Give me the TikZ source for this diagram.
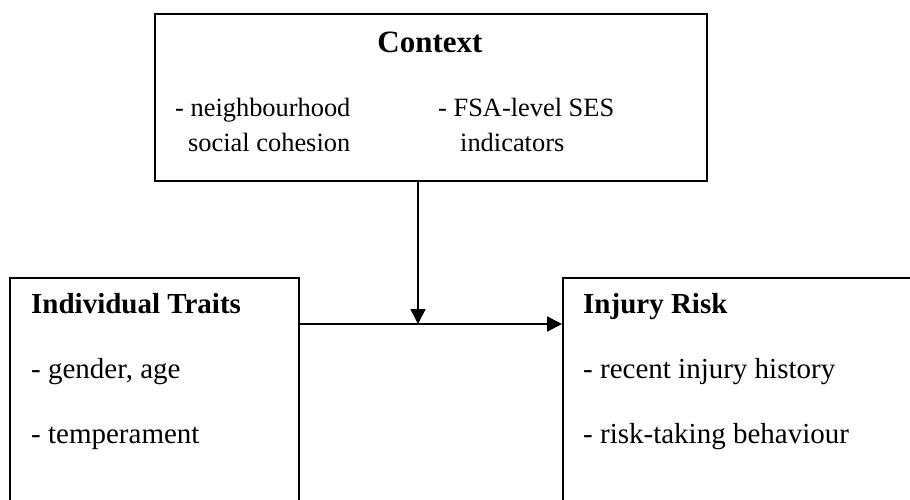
\documentclass[tikz,border=0pt]{standalone}
\usepackage{fontspec}
\setmainfont{Liberation Serif}
\usetikzlibrary{arrows.meta}
\begin{document}
\begin{tikzpicture}[x=1pt,y=-1pt,
  box/.style={draw,line width=1.8pt,anchor=north west,inner sep=0pt},
  conn/.style={line width=1.8pt,-{Triangle[length=15pt,width=15pt]}},
  plain/.style={line width=1.8pt},
  lbl/.style={anchor=base west,inner sep=0pt},
  title/.style={lbl,font=\fontsize{29}{33}\selectfont\bfseries},
  ctitle/.style={anchor=base,inner sep=0pt,font=\fontsize{31}{35}\selectfont\bfseries},
  small/.style={lbl,font=\fontsize{26.4}{30}\selectfont},
  body/.style={lbl,font=\fontsize{29}{33}\selectfont}]
\useasboundingbox (0,0) rectangle (910,500);
\clip (0,0) rectangle (910,500);
% boxes
\node[box,minimum width=552pt,minimum height=167pt] (ctx) at (154,13) {};
\node[box,minimum width=289pt,minimum height=260pt] (ind) at (9,277) {};
\node[box,minimum width=380pt,minimum height=260pt] (inj) at (562,277) {};
% texts
\node[ctitle] (ctxt) at (430,53) {Context};
\node[small] (c1a) at (175,117) {- neighbourhood};
\node[small] (c1b) at (188,152) {social cohesion};
\node[small] (c2a) at (438,117) {- FSA-level SES};
\node[small] (c2b) at (460,152) {indicators};
\node[title] (indt) at (31,313) {Individual Traits};
\node[body] (i1) at (31,378) {- gender, age};
\node[body] (i2) at (31,443) {- temperament};
\node[title] (injt) at (583,313) {Injury Risk};
\node[body] (r1) at (583,378) {- recent injury history};
\node[body] (r2) at (583,443) {- risk-taking behaviour};
% connectors
\coordinate (m) at (418,324);
\draw[conn] (ind.east |- m) -- (inj.west |- m);
\draw[conn] (ctx.south -| m) -- (m);
\end{tikzpicture}
\end{document}
